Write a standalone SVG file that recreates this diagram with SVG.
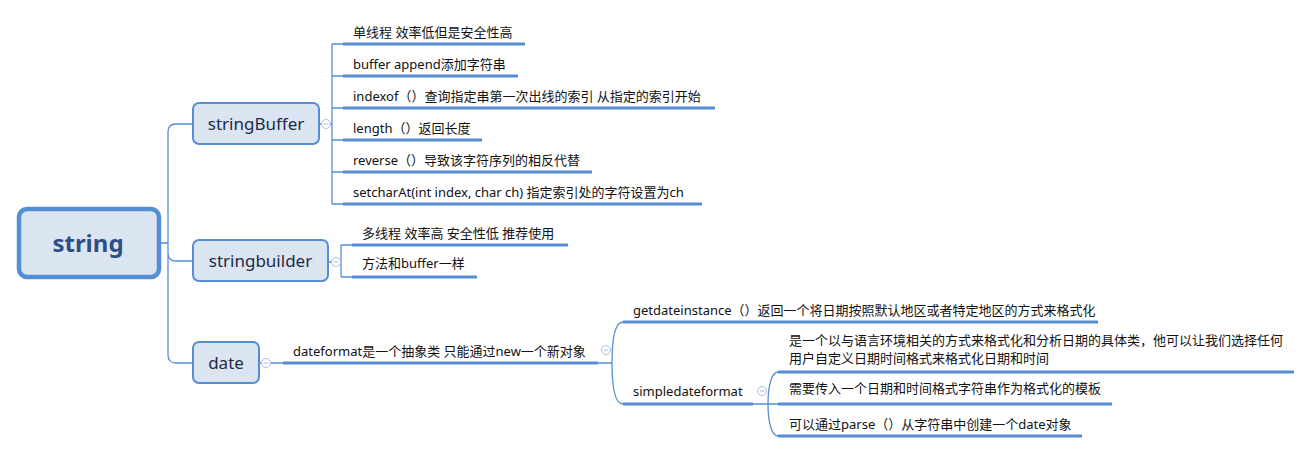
<svg xmlns="http://www.w3.org/2000/svg" width="1312" height="453" viewBox="0 0 1312 453">
<style>
.bg{fill:#ffffff}
.node{fill:#dbe5f1;stroke:#558ed5;stroke-width:2}
.root{fill:#dbe5f1;stroke:#558ed5;stroke-width:4.5}
.ln{fill:none;stroke:#558ed5;stroke-width:1.3}
.ul{fill:none;stroke:#558ed5;stroke-width:3}
.col{fill:#ffffff;stroke:#a9bde4;stroke-width:1}
.minus{stroke:#a9bde4;stroke-width:1}
.t{font-family:"Noto Sans","Noto Sans CJK SC",sans-serif;font-size:13px;fill:#111111}
.nt{font-family:"Noto Sans","Noto Sans CJK SC",sans-serif;font-size:17px;fill:#1b2a47;text-anchor:middle}
.rt{font-family:"Noto Sans","Noto Sans CJK SC",sans-serif;font-size:24px;font-weight:bold;fill:#2b4f86;text-anchor:middle}
</style>
<defs>
<g id="collapse"><circle class="col" r="4.5"/><line class="minus" x1="-2.5" y1="0" x2="2.5" y2="0"/></g>
</defs>
<rect class="bg" x="0" y="0" width="1312" height="453"/>

<g id="connectors">
<path class="ln" d="M159,243 H168 M193,124 H176 Q168,124 168,132 V355 Q168,363 176,363 H193 M168,253 Q168,261 176,261 H193"/>
<path class="ln" d="M319,124 H332 M332,44 V204 M332,44 H343 M332,76 H343 M332,108 H343 M332,140 H343 M332,172 H343 M332,204 H343"/>
<path class="ul" d="M343,44 H525 M343,76 H518 M343,108 H715 M343,140 H482 M343,172 H592 M343,204 H702"/>
<path class="ln" d="M328,262 H341 M341,245 V277 M341,245 H352 M341,277 H352"/>
<path class="ul" d="M352,245 H568 M352,277 H477"/>
<path class="ln" d="M259,363 H283 M598,363 H612 M623,322 C615,322 612,340 612,363 C612,386 615,404 623,404"/>
<path class="ul" d="M283,363 H598 M623,322 H1098 M623,404 H753"/>
<path class="ln" d="M753,404 H778 M778,372 C771,372 768,388 768,404 C768,420 771,436 778,436"/>
<path class="ul" d="M778,372 H1294 M778,404 H1112 M778,436 H1082"/>
</g>

<g id="node-string">
<rect class="root" x="19" y="209" width="140" height="68" rx="8"/>
<text class="rt" x="88" y="252">string</text>
</g>

<g id="node-stringBuffer">
<rect class="node" x="193" y="103" width="126" height="41" rx="6"/>
<text class="nt" x="256" y="130">stringBuffer</text>
<use href="#collapse" x="326" y="124"/>
</g>

<g id="node-stringbuilder">
<rect class="node" x="193" y="240" width="135" height="41" rx="6"/>
<text class="nt" x="260.5" y="267">stringbuilder</text>
<use href="#collapse" x="336" y="262"/>
</g>

<g id="node-date">
<rect class="node" x="193" y="342" width="66" height="41" rx="6"/>
<text class="nt" x="226" y="369">date</text>
<use href="#collapse" x="266" y="363"/>
</g>

<g id="sb-1"><text class="t" x="353" y="37">单线程 效率低但是安全性高</text></g>
<g id="sb-2"><text class="t" x="353" y="69">buffer append添加字符串</text></g>
<g id="sb-3"><text class="t" x="353" y="101">indexof（）查询指定串第一次出线的索引 从指定的索引开始</text></g>
<g id="sb-4"><text class="t" x="353" y="133">length（）返回长度</text></g>
<g id="sb-5"><text class="t" x="353" y="165">reverse（）导致该字符序列的相反代替</text></g>
<g id="sb-6"><text class="t" x="353" y="197">setcharAt(int index, char ch) 指定索引处的字符设置为ch</text></g>

<g id="sbd-1"><text class="t" x="362" y="238">多线程 效率高 安全性低 推荐使用</text></g>
<g id="sbd-2"><text class="t" x="362" y="268">方法和buffer一样</text></g>

<g id="dateformat">
<text class="t" x="293" y="356">dateformat是一个抽象类 只能通过new一个新对象</text>
<use href="#collapse" x="606" y="350"/>
</g>
<g id="getdateinstance"><text class="t" x="633" y="315">getdateinstance（）返回一个将日期按照默认地区或者特定地区的方式来格式化</text></g>
<g id="simpledateformat">
<text class="t" x="633" y="396">simpledateformat</text>
<use href="#collapse" x="762" y="391"/>
</g>
<g id="sdf-1">
<text class="t" x="789" y="345">是一个以与语言环境相关的方式来格式化和分析日期的具体类，他可以让我们选择任何</text>
<text class="t" x="789" y="363">用户自定义日期时间格式来格式化日期和时间</text>
</g>
<g id="sdf-2"><text class="t" x="789" y="393">需要传入一个日期和时间格式字符串作为格式化的模板</text></g>
<g id="sdf-3"><text class="t" x="789" y="429">可以通过parse（）从字符串中创建一个date对象</text></g>
</svg>
